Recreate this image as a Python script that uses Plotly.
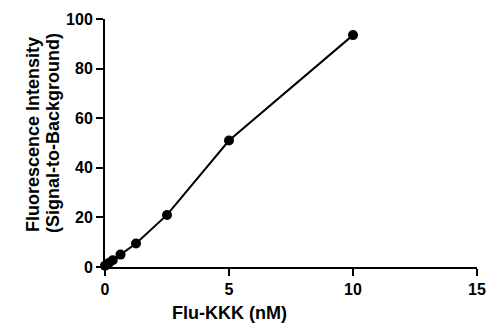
import plotly.graph_objects as go

conc_nM = [0, 0.078, 0.156, 0.3125, 0.625, 1.25, 2.5, 5, 10]
signal = [0.5, 1.0, 1.6, 2.7, 5.0, 9.5, 21.0, 51.0, 93.5]

x_ticks = [0, 5, 10, 15]
y_ticks = [0, 20, 40, 60, 80, 100]

fig = go.Figure()
fig.add_trace(go.Scatter(
    x=conc_nM, y=signal, mode="lines+markers",
    line=dict(color="black", width=2),
    marker=dict(color="black", size=10),
    cliponaxis=False, showlegend=False,
))

font = dict(family="Liberation Sans, Arial, sans-serif", color="black")
L, R, T, B = 105, 11, 19, 58
W, H = 488, 325
pw = W - L - R
ph = H - T - B
fig.update_layout(
    width=W, height=H,
    margin=dict(l=L, r=R, t=T, b=B, autoexpand=False),
    paper_bgcolor="white", plot_bgcolor="white",
    font=font,
)
fig.update_xaxes(
    range=[0, 15], tickvals=x_ticks, ticktext=[f"<b>{v}</b>" for v in x_ticks],
    showline=True, linecolor="black", linewidth=2, ticks="outside", ticklen=7,
    tickwidth=2, tickcolor="black", showgrid=False, zeroline=False,
    tickfont=dict(size=16), automargin=False,
)
fig.update_yaxes(
    range=[0, 100], tickvals=y_ticks, ticktext=[f"<b>{v}</b>" for v in y_ticks],
    showline=True, linecolor="black", linewidth=2, ticks="outside", ticklen=7,
    tickwidth=2, tickcolor="black", showgrid=False, zeroline=False,
    tickfont=dict(size=16), automargin=False,
)

def px_x(p):
    return (p - L) / pw

def px_y(p):
    return (H - B - p) / ph

fig.add_annotation(text="<b>Flu-KKK (nM)</b>", xref="paper", yref="paper",
                   x=px_x(229), y=px_y(313), xanchor="center", yanchor="middle",
                   showarrow=False, font=dict(size=18))
fig.add_annotation(text="<b>Fluorescence Intensity</b>", xref="paper", yref="paper",
                   x=px_x(33), y=px_y(135), xanchor="center", yanchor="middle",
                   textangle=-90, showarrow=False, font=dict(size=18))
fig.add_annotation(text="<b>(Signal-to-Background)</b>", xref="paper", yref="paper",
                   x=px_x(53), y=px_y(133), xanchor="center", yanchor="middle",
                   textangle=-90, showarrow=False, font=dict(size=18))
fig.write_html("out.html", config={"displayModeBar": False},
               post_script="document.body.style.margin='0';document.body.style.overflow='hidden';")
